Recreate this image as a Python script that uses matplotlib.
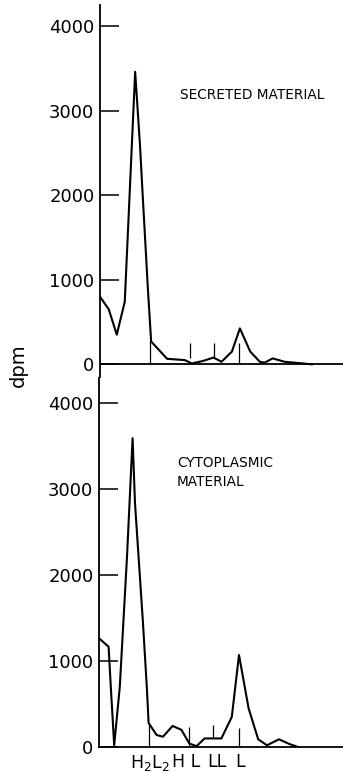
import numpy as np
import matplotlib.pyplot as plt

# fraction number (position along gradient) and dpm
secreted_x = [0.0, 1.1, 2.1, 3.1, 4.4, 5.0, 5.4, 6.0, 6.4, 8.4, 10.6, 11.5, 12.9, 14.2,
              15.2, 16.5, 17.5, 18.8, 20.0, 20.6, 21.6, 23.1, 25.4, 26.5]
secreted_y = [800, 650, 350, 740, 3460, 2600, 1900, 880, 270, 65, 50, 10, 40, 80,
              30, 150, 425, 150, 30, 20, 70, 30, 10, 0]

cyto_x = [0.0, 1.2, 1.5, 1.9, 2.6, 3.5, 4.2, 4.5, 5.5, 6.0, 6.2, 7.2, 8.0, 9.2, 10.3,
          11.3, 12.2, 13.2, 14.3, 15.3, 16.6, 17.5, 18.7, 19.9, 21.0, 22.5, 23.8, 24.9]
cyto_y = [1264, 1166, 660, 20, 700, 2210, 3590, 2835, 1440, 660, 280, 140, 120, 245, 200,
          40, 10, 100, 100, 100, 350, 1070, 450, 90, 20, 90, 35, 0]

# marker positions (H2L2, HL, LL, L) with the extent of each vertical mark
marker_x = [6.25, 11.2, 14.3, 17.45]
secreted_mark_lo = [0, 70, 70, 0]
secreted_mark_hi = [270, 250, 250, 250]
cyto_mark_lo = [0, 0, 115, 0]
cyto_mark_hi = [260, 230, 255, 225]

label_x = [6.4, 10.9, 14.75, 17.6]
label_txt = ["H$_2$L$_2$", "H L", "LL", "L"]

yticks = [0, 1000, 2000, 3000, 4000]

fig = plt.figure(figsize=(3.43, 7.73), dpi=100)

ax1 = fig.add_axes([0.2915, 0.5123, 0.7085, 0.4812])
ax2 = fig.add_axes([0.2886, 0.0336, 0.7114, 0.4774])

for ax in (ax1, ax2):
    ax.spines["top"].set_visible(False)
    ax.spines["right"].set_visible(False)
    ax.spines["left"].set_linewidth(1.3)
    ax.set_yticks(yticks)
    ax.tick_params(axis="y", direction="in", length=14, width=1.1, pad=4, labelsize=13)

# top panel: secreted
ax1.plot(secreted_x, secreted_y, color="black", lw=1.5)
ax1.vlines(marker_x, secreted_mark_lo, secreted_mark_hi, color="black", lw=0.9)
ax1.axhline(0, color="black", lw=1.3)
ax1.spines["bottom"].set_visible(False)
ax1.set_xticks([])
ax1.set_xlim(0, 30.4)
ax1.set_ylim(-150, 4250)
ax1.text(10.0, 3180, "SECRETED MATERIAL", fontsize=9.8, va="center")

# bottom panel: cytoplasmic
ax2.plot(cyto_x, cyto_y, color="black", lw=1.5)
ax2.vlines(marker_x, cyto_mark_lo, cyto_mark_hi, color="black", lw=0.9)
ax2.spines["bottom"].set_linewidth(1.3)
ax2.set_xlim(0, 30.5)
ax2.set_ylim(0, 4290)
ax2.set_xticks(label_x)
ax2.set_xticklabels(label_txt, fontsize=12.5)
ax2.tick_params(axis="x", length=0, pad=4)
ax2.text(9.75, 3190, "CYTOPLASMIC\nMATERIAL", fontsize=9.8, va="center", linespacing=1.45)

fig.text(0.055, 0.528, "dpm", rotation=90, fontsize=14, ha="center", va="center")

fig.savefig("out.png", dpi=100)
